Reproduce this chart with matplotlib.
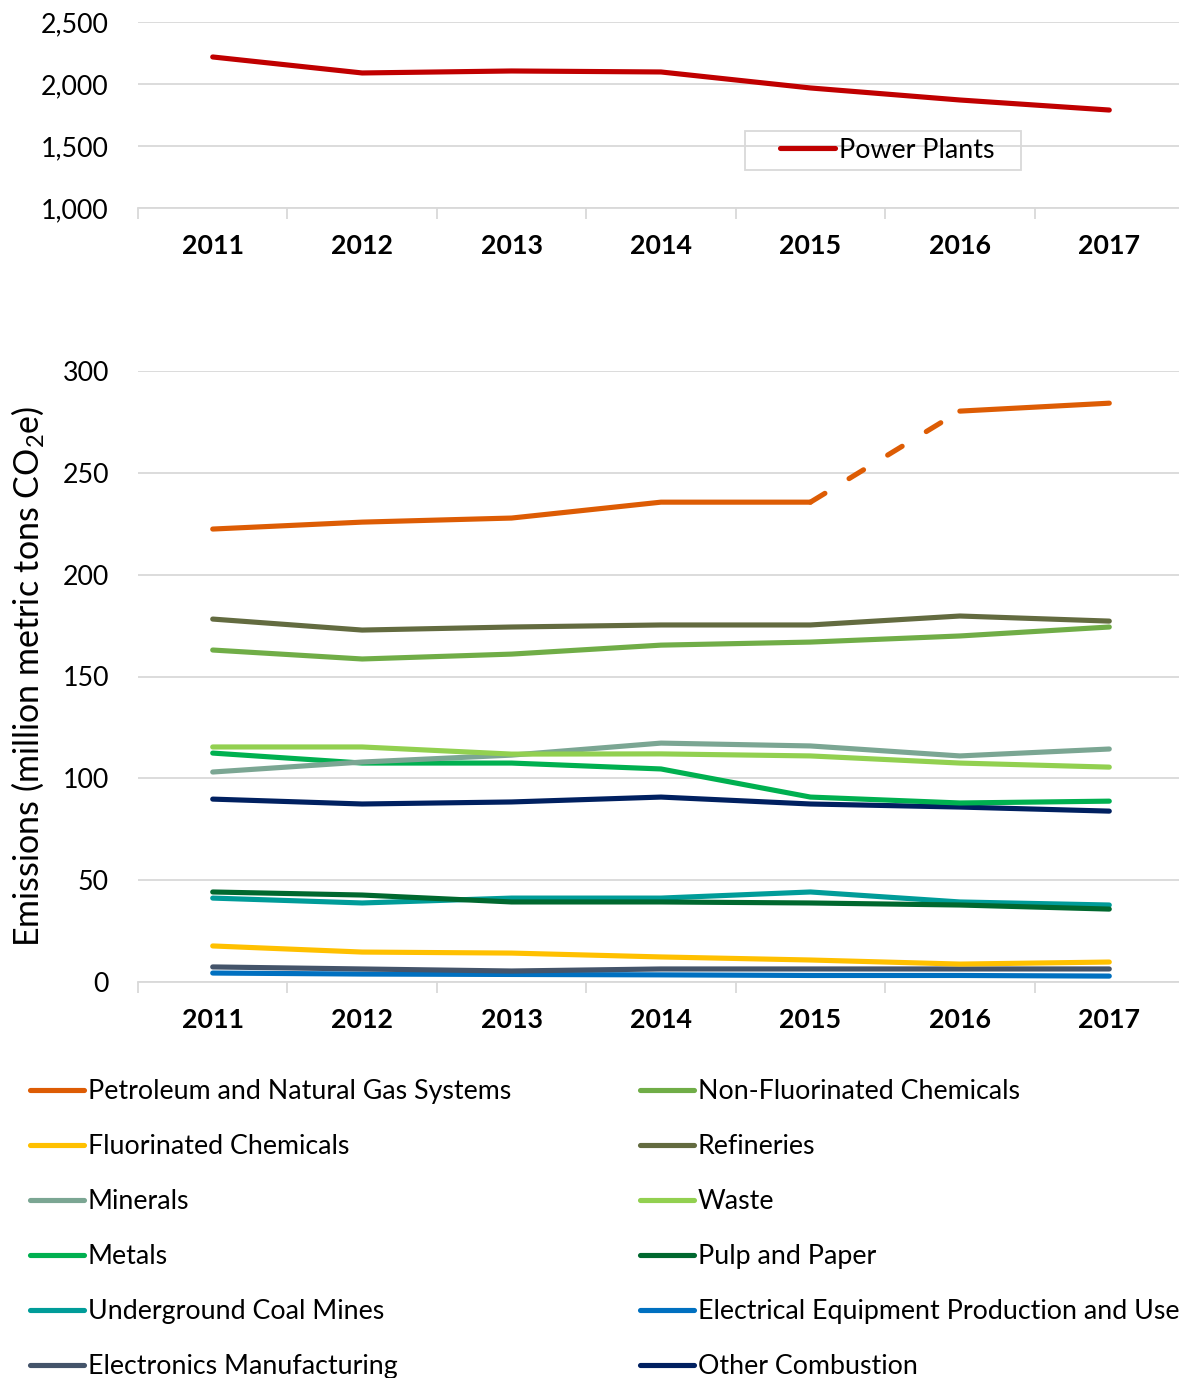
import numpy as np
import matplotlib.pyplot as plt
from matplotlib.patches import Rectangle
from matplotlib.ticker import FixedLocator, NullFormatter

plt.rcParams['font.family'] = ['Lato', 'DejaVu Sans']
plt.rcParams['mathtext.fontset'] = 'custom'
plt.rcParams['mathtext.rm'] = 'Lato'

# ---- data ----
years = ['2011', '2012', '2013', '2014', '2015', '2016', '2017']

power_plants = [2218, 2089, 2105, 2097, 1968, 1871, 1790]
top_yticks = [1000, 1500, 2000, 2500]
top_yticklabels = ['1,000', '1,500', '2,000', '2,500']

petroleum = [222.4, 225.8, 227.8, 235.6, 235.6, 280.3, 284.2]
non_fluorinated = [163.0, 158.6, 161.0, 165.4, 166.9, 169.9, 174.3]
fluorinated = [17.7, 14.7, 14.2, 12.3, 10.8, 8.8, 9.8]
refineries = [178.2, 172.8, 174.3, 175.3, 175.3, 179.7, 177.2]
minerals = [103.1, 108.0, 111.4, 117.3, 115.9, 111.0, 114.4]
waste = [115.4, 115.4, 111.9, 112.0, 111.0, 107.5, 105.5]
metals = [112.4, 107.5, 107.5, 104.6, 90.8, 87.9, 88.8]
pulp_paper = [44.2, 42.7, 39.3, 39.3, 38.8, 37.8, 35.8]
coal_mines = [41.2, 38.8, 41.2, 41.2, 44.2, 39.3, 37.8]
electrical_equip = [4.4, 3.9, 3.7, 3.5, 3.2, 3.2, 2.9]
electronics = [7.4, 6.4, 5.4, 6.4, 6.4, 6.4, 6.4]
other_combustion = [89.8, 87.4, 88.4, 90.8, 87.4, 85.9, 83.9]

bottom_yticks = [0, 50, 100, 150, 200, 250, 300]

# legend order, column by column
col1 = [('Petroleum and Natural Gas Systems', petroleum, '#DD5C04'),
        ('Fluorinated Chemicals', fluorinated, '#FFC000'),
        ('Minerals', minerals, '#7BA693'),
        ('Metals', metals, '#00B050'),
        ('Underground Coal Mines', coal_mines, '#009C99'),
        ('Electronics Manufacturing', electronics, '#44546A')]
col2 = [('Non-Fluorinated Chemicals', non_fluorinated, '#70AD47'),
        ('Refineries', refineries, '#636B40'),
        ('Waste', waste, '#92D050'),
        ('Pulp and Paper', pulp_paper, '#00682F'),
        ('Electrical Equipment Production and Use', electrical_equip, '#0070C0'),
        ('Other Combustion', other_combustion, '#002060')]

# drawing order (back to front)
draw_order = ['Electrical Equipment Production and Use', 'Electronics Manufacturing',
              'Fluorinated Chemicals', 'Underground Coal Mines', 'Pulp and Paper',
              'Other Combustion', 'Metals', 'Minerals', 'Waste',
              'Non-Fluorinated Chemicals', 'Refineries',
              'Petroleum and Natural Gas Systems']

W, H = 1179, 1378
FS = 19.3
LW = 3.7
GRID = '#D9D9D9'

fig = plt.figure(figsize=(W / 100, H / 100), dpi=100)


def style_axis(ax):
    x = np.arange(len(years))
    ax.set_xlim(-0.5, len(years) - 0.5)
    ax.xaxis.set_major_locator(FixedLocator(np.arange(-0.5, len(years), 1.0)))
    ax.xaxis.set_major_formatter(NullFormatter())
    ax.xaxis.set_minor_locator(FixedLocator(x))
    ax.set_xticklabels(years, minor=True, fontsize=FS, fontweight='bold')
    ax.tick_params(axis='x', which='major', length=8, width=1.3, color=GRID)
    ax.tick_params(axis='x', which='minor', length=0, pad=18.5)
    ax.tick_params(axis='y', length=0, pad=21, labelsize=FS)
    for s in ['top', 'right', 'left']:
        ax.spines[s].set_visible(False)
    ax.spines['bottom'].set_color(GRID)
    ax.spines['bottom'].set_linewidth(1.3)
    ax.grid(axis='y', color=GRID, linewidth=1.3)
    ax.set_axisbelow(True)


# ---- top panel: power plants ----
ax1 = fig.add_axes([138 / W, 1 - 208 / H, 1046 / W, (208 - 22) / H])
style_axis(ax1)
ax1.set_ylim(1000, 2500)
ax1.set_yticks(top_yticks)
ax1.set_yticklabels(top_yticklabels)
ax1.plot(np.arange(len(years)), power_plants, color='#C00000', lw=LW,
         solid_capstyle='round', label='Power Plants', clip_on=False)
leg_pp = ax1.legend(loc='center', bbox_to_anchor=(887 / W, 1 - 150 / H),
                    bbox_transform=fig.transFigure, fontsize=FS, frameon=False,
                    handlelength=2.05, handletextpad=0.15, borderpad=0,
                    borderaxespad=0)

# ---- bottom panel: other sectors ----
ax2 = fig.add_axes([138 / W, 1 - 982 / H, 1046 / W, (982 - 371) / H])
style_axis(ax2)
ax2.set_ylim(0, 300)
ax2.set_yticks(bottom_yticks)
fig.text(28 / W, 1 - 676 / H, 'Emissions (million metric tons CO$_2$e)',
         rotation=90, ha='center', va='center', fontsize=24.5)

series = {name: (vals, col) for name, vals, col in col1 + col2}
x = np.arange(len(years))
for name in draw_order:
    vals, col = series[name]
    if name.startswith('Petroleum'):
        # 2015 -> 2016 step drawn dashed
        ax2.plot(x[:5], vals[:5], color=col, lw=LW, solid_capstyle='round',
                 solid_joinstyle='round', zorder=5)
        ax2.plot(x[4:6], vals[4:6], color=col, lw=LW, linestyle=(0, (3.3, 5.5)),
                 dash_capstyle='round', zorder=5)
        ax2.plot(x[5:], vals[5:], color=col, lw=LW, solid_capstyle='round',
                 zorder=5)
    else:
        ax2.plot(x, vals, color=col, lw=LW, solid_capstyle='round',
                 solid_joinstyle='round', clip_on=False)

# ---- legends below ----
for items, x0 in [(col1, 30), (col2, 640)]:
    handles = [plt.Line2D([], [], color=c, lw=LW, solid_capstyle='round')
               for _, _, c in items]
    labels = [n for n, _, _ in items]
    fig.legend(handles, labels, loc='upper left',
               bbox_to_anchor=(x0 / W, 1 - 1079 / H), fontsize=FS,
               frameon=False, handlelength=2.0, handletextpad=0.15,
               labelspacing=1.12, borderpad=0, borderaxespad=0)

# frame round the power plants legend, wider on the sides like the original
fig.canvas.draw()
bb = leg_pp.get_window_extent()
padx_l, padx_r, pady = 35, 27, 7
fig.add_artist(Rectangle(((bb.x0 - padx_l) / W, (bb.y0 - pady) / H),
                         (bb.width + padx_l + padx_r) / W,
                         (bb.height + 2 * pady) / H,
                         transform=fig.transFigure, facecolor='none',
                         edgecolor=GRID, linewidth=1.3))

fig.savefig('out.png', dpi=100)
